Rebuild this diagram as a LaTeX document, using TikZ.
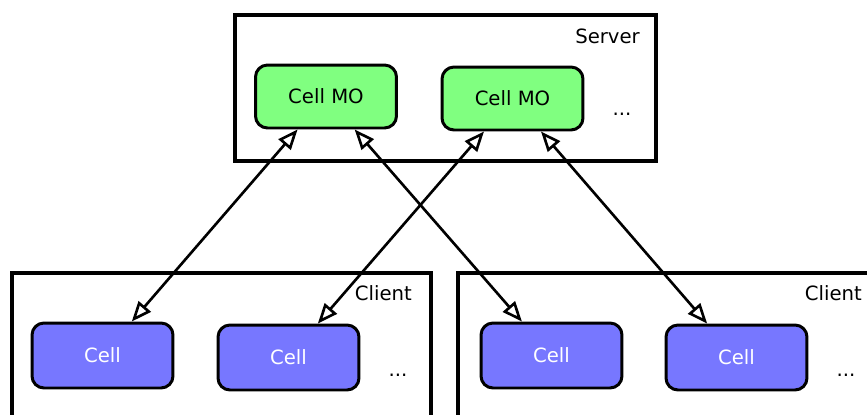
\documentclass[tikz,border=0pt]{standalone}
\usepackage{fontspec}
\setmainfont{DejaVu Sans}
\usetikzlibrary{arrows.meta}

\definecolor{moGreen}{RGB}{128,255,128}
\definecolor{cellBlue}{RGB}{119,119,255}

\tikzset{
    boxfont/.style={font=\fontsize{11.2}{13}\selectfont},
    mobox/.style={draw, line width=1.7pt, rounded corners=0.24cm, fill=moGreen,
        minimum width=2.82cm, minimum height=1.26cm, boxfont},
    cellbox/.style={draw, line width=1.7pt, rounded corners=0.24cm, fill=cellBlue,
        text=white, minimum width=2.82cm, minimum height=1.3cm, boxfont},
    sidebox/.style={draw, line width=2pt},
    sync/.style={{Triangle[open,length=0.4cm,width=0.32cm]}-{Triangle[open,length=0.4cm,width=0.32cm]},
        line width=1.5pt},
}

\begin{document}
\begin{tikzpicture}[x=0.02cm, y=-0.02cm]
        \useasboundingbox (0,0) rectangle (867,414);
        \clip (0,0) rectangle (867,414);

        % server side
        \draw[sidebox] (235,15) rectangle (656,161);
        \node[anchor=east, boxfont] (serverlbl) at (646,36) {Server};
        \node[mobox] (mo1) at (326,96.5) {Cell MO};
        \node[mobox] (mo2) at (512.5,98.5) {Cell MO};
        \node[boxfont] (moetc) at (622,114) {...};

        % first client
        \draw[sidebox] (12,273) rectangle (431,440);
        \node[anchor=east, boxfont] (clientlbl1) at (418,293) {Client};
        \node[cellbox] (cell1) at (102.5,355.5) {Cell};
        \node[cellbox] (cell2) at (288.5,357.5) {Cell};
        \node[boxfont] (celletc1) at (398,375) {...};

        % second client
        \draw[sidebox] (458,273) rectangle (900,440);
        \node[anchor=east, boxfont] (clientlbl2) at (868,293) {Client};
        \node[cellbox] (cell3) at (551.5,355.5) {Cell};
        \node[cellbox] (cell4) at (736.5,357.5) {Cell};
        \node[boxfont] (celletc2) at (846,375) {...};

        \draw[sync] (mo1) -- (cell1);
        \draw[sync] (mo1) -- (cell3);
        \draw[sync] (mo2) -- (cell2);
        \draw[sync] (mo2) -- (cell4);

    \end{tikzpicture}
\end{document}
